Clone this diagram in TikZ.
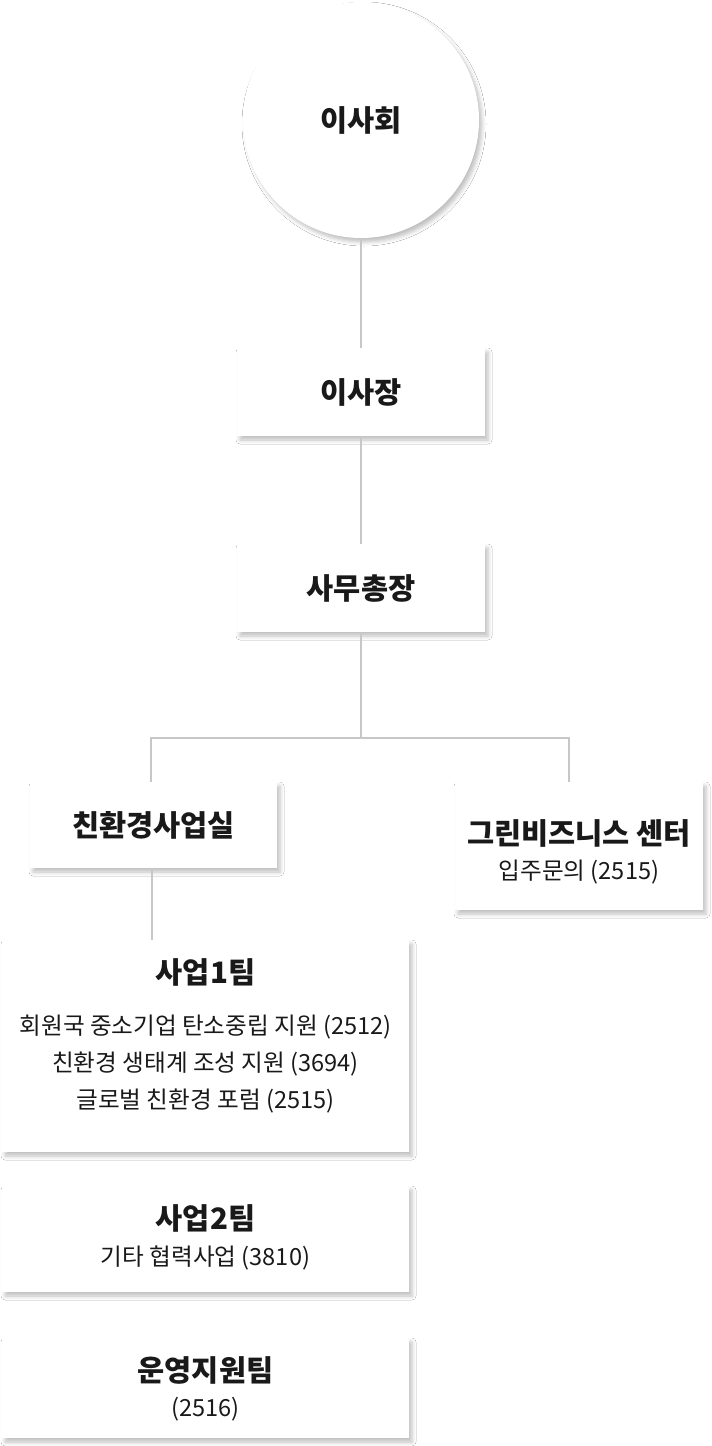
\documentclass[tikz,border=0pt]{standalone}
\usepackage{fontspec}
\setmainfont{Noto Sans CJK KR}
\usepackage{tikz}
\usetikzlibrary{positioning,calc,shadows.blur}

\begin{document}
\begin{tikzpicture}[
  x=1pt,y=-1pt,
  every node/.style={text=black!90},
  orgbox/.style={fill=white,inner sep=0pt,
                 blur shadow={shadow xshift=3pt,shadow yshift=-4pt,
                   shadow blur radius=4pt,shadow opacity=25}},
  wide/.style={orgbox,minimum width=248,minimum height=88},
  team/.style={orgbox,minimum width=407},
  ttl/.style={font=\fontsize{29.5}{32}\selectfont\bfseries},
  sub/.style={font=\fontsize{23.6}{37}\selectfont},
  link/.style={draw=black!22,line width=1.6pt},
]
  \useasboundingbox[fill=white] (0,0) rectangle (712,1446);

  % top levels
  \node[orgbox,circle,minimum size=236] (board) at (361,120) {};
  \node[ttl] at (board) {이사회};

  \node[wide] (chair) at (361,392) {};
  \node[ttl] at (chair) {이사장};

  \node[wide] (sg) at (361,588) {};
  \node[ttl] at (sg) {사무총장};

  % second row
  \node[orgbox,minimum width=247,minimum height=86] (envoff) at (153.5,825) {};
  \node[ttl] at (envoff) {친환경사업실};

  \node[orgbox,minimum width=248,minimum height=128] (gbc) at (579,846) {};
  \node[ttl] at (579,833) {그린비즈니스 센터};
  \node[sub] at (579,872) {입주문의 (2515)};

  % teams
  \node[team,minimum height=212] (team1) at (205.5,1046) {};
  \node[ttl] at (205.5,972) {사업1팀};
  \node[sub,align=center] at (205.5,1064)
    {회원국 중소기업 탄소중립 지원 (2512)\\
     친환경 생태계 조성 지원 (3694)\\
     글로벌 친환경 포럼 (2515)};

  \node[team,minimum height=106] (team2) at (205.5,1239) {};
  \node[ttl] at (205.5,1218) {사업2팀};
  \node[sub] at (205.5,1258) {기타 협력사업 (3810)};

  \node[team,minimum height=100] (ops) at (205.5,1388) {};
  \node[ttl] at (205.5,1370) {운영지원팀};
  \node[sub] at (205.5,1409) {(2516)};

  % connectors
  \coordinate (split) at (361,738);
  \coordinate (gbctop) at (569,782);
  \coordinate (offtop) at (151,782);
  \draw[link] (board.south) -- (chair.north);
  \draw[link] (chair.south) -- (sg.north);
  \draw[link] (sg.south) -- (split);
  \draw[link] (split) -| (offtop);
  \draw[link] (split) -| (gbctop);
  \draw[link] (envoff.south -| 152,0) -- (team1.north -| 152,0);
\end{tikzpicture}
\end{document}
